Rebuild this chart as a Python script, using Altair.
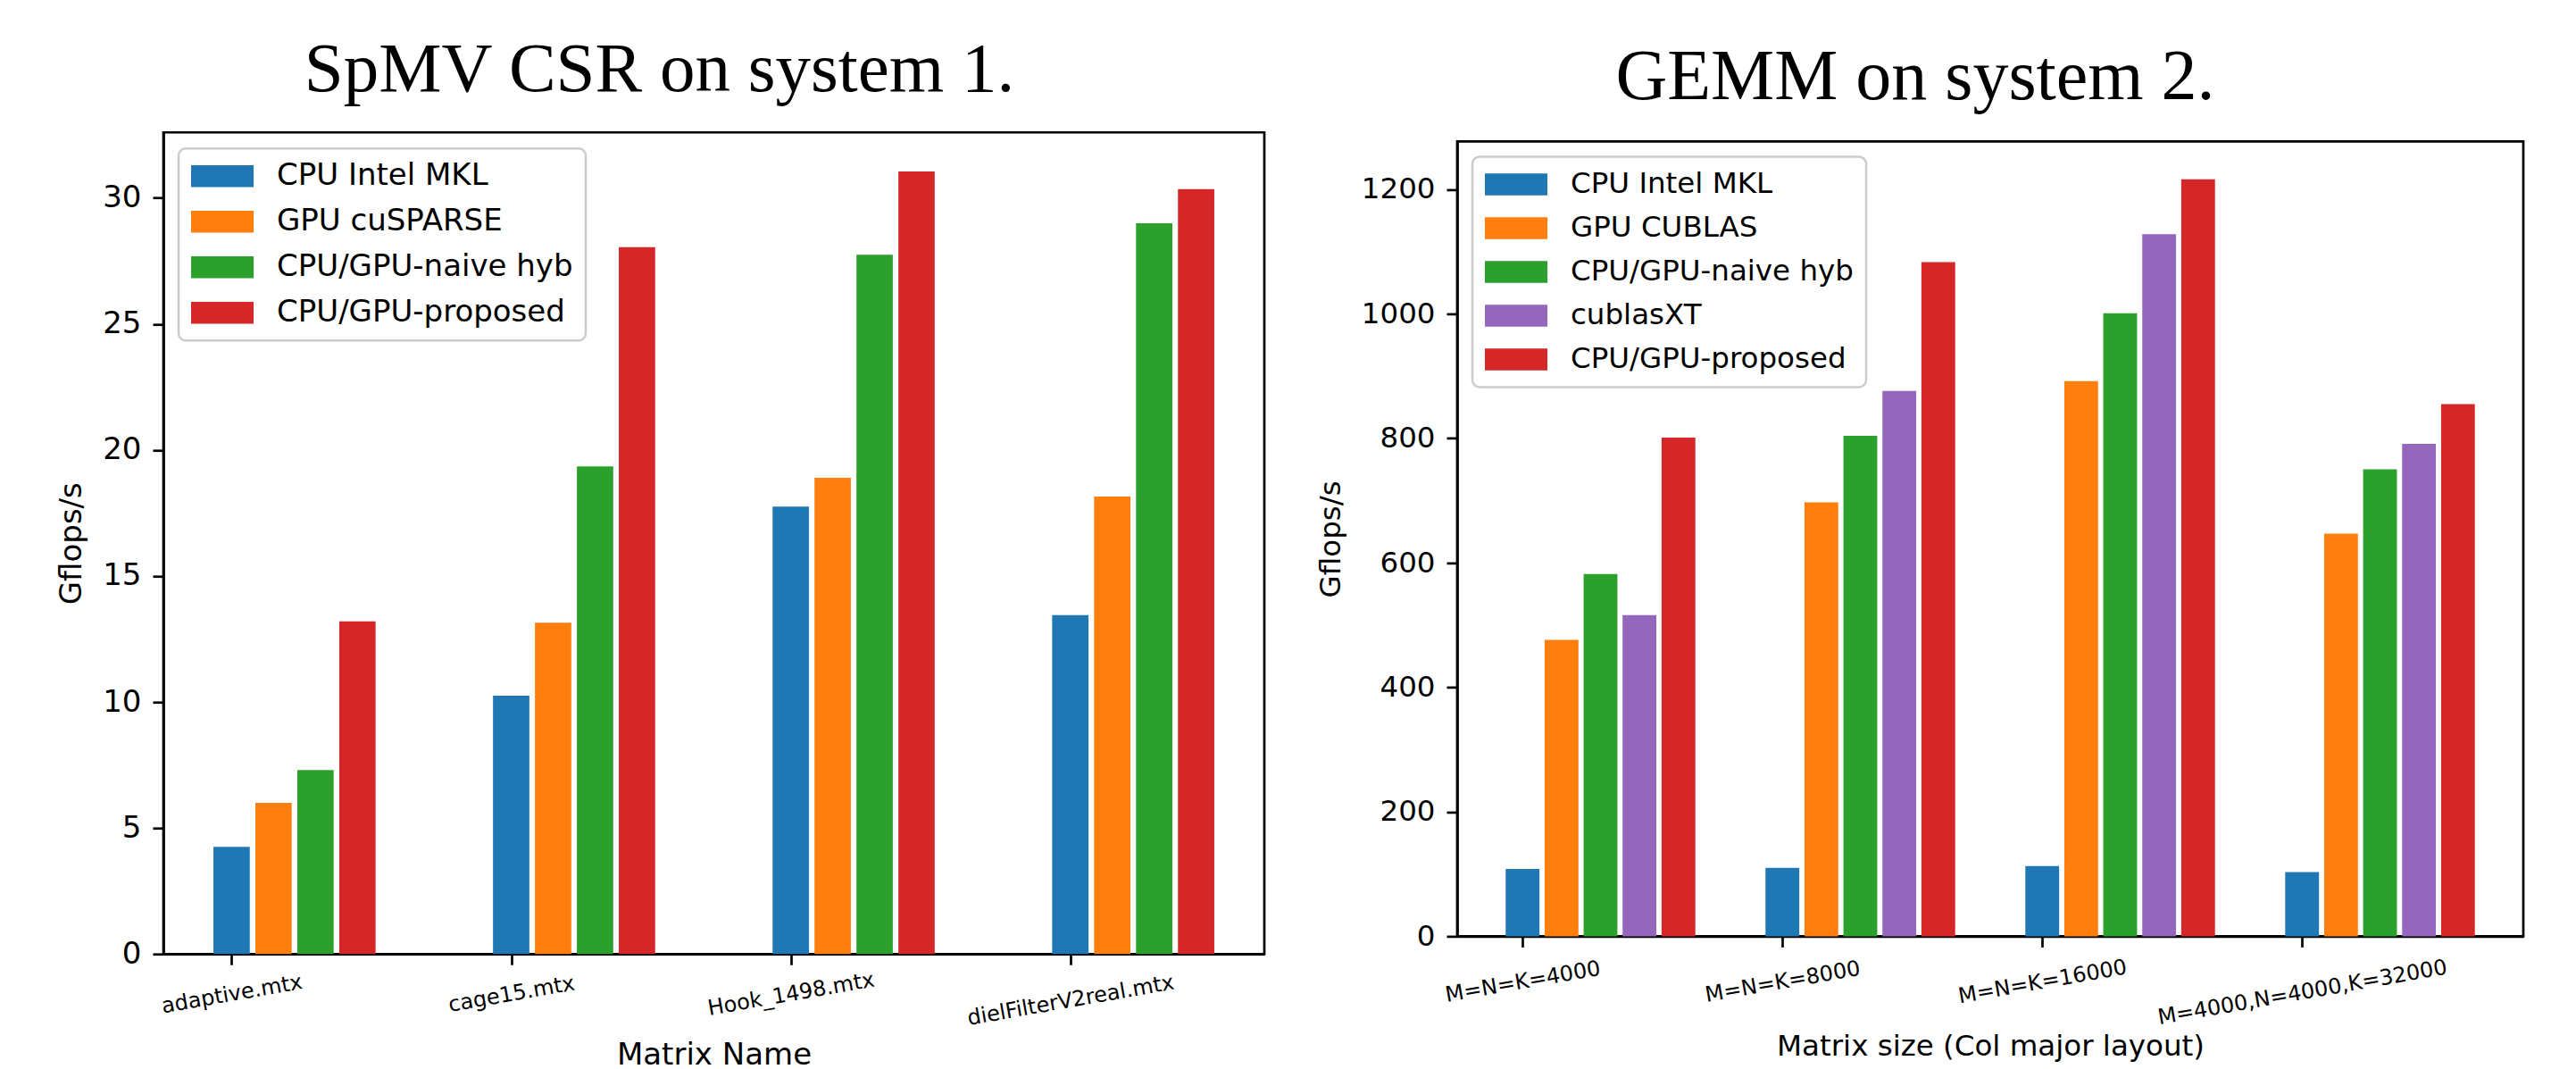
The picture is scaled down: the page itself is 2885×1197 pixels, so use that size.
import json
import altair as alt
import pandas as pd

# ---------------- data ----------------
spmv_matrices = ["adaptive.mtx", "cage15.mtx", "Hook_1498.mtx", "dielFilterV2real.mtx"]
spmv_series = ["CPU Intel MKL", "GPU cuSPARSE", "CPU/GPU-naive hyb", "CPU/GPU-proposed"]
spmv_cpu_mkl = [4.25, 10.25, 17.75, 13.45]
spmv_gpu_cusparse = [6.0, 13.15, 18.9, 18.15]
spmv_naive_hyb = [7.3, 19.35, 27.75, 29.0]
spmv_proposed = [13.2, 28.05, 31.05, 30.35]

gemm_sizes = ["M=N=K=4000", "M=N=K=8000", "M=N=K=16000", "M=4000,N=4000,K=32000"]
gemm_series = ["CPU Intel MKL", "GPU CUBLAS", "CPU/GPU-naive hyb", "cublasXT", "CPU/GPU-proposed"]
gemm_cpu_mkl = [108, 110, 113, 103]
gemm_gpu_cublas = [476, 697, 892, 647]
gemm_naive_hyb = [582, 804, 1001, 750]
gemm_cublasxt = [516, 876, 1128, 791]
gemm_proposed = [801, 1083, 1216, 855]

spmv_colors = ["#1f77b4", "#ff7f0e", "#2ca02c", "#d62728"]
gemm_colors = ["#1f77b4", "#ff7f0e", "#2ca02c", "#9467bd", "#d62728"]

BAR_STEP = 0.15
BAR_W = 0.13


def build(series_names, series_values):
    rows = []
    for k, (name, vals) in enumerate(zip(series_names, series_values)):
        for i, v in enumerate(vals):
            c = i + k * BAR_STEP
            rows.append({"series": name, "x0": c - BAR_W / 2, "x1": c + BAR_W / 2, "value": v, "group": i})
    return pd.DataFrame(rows)


spmv_df = build(spmv_series, [spmv_cpu_mkl, spmv_gpu_cusparse, spmv_naive_hyb, spmv_proposed])
gemm_df = build(gemm_series, [gemm_cpu_mkl, gemm_gpu_cublas, gemm_naive_hyb, gemm_cublasxt, gemm_proposed])

# wide legend swatch (2.06 : 0.72 aspect), left edge at the symbol's nominal left
RECT = "M-1,-0.72L3.12,-0.72L3.12,0.72L-1,0.72Z"


def panel(df, series, colors, cats, title, xtitle, yticks, width, height, dx,
          pad_short, pad_long, title_pad, legend_y, row_pad, font_size, title_size):
    lo = df["x0"].min()
    hi = df["x1"].max()
    m = (hi - lo) * 0.05
    ymax = df["value"].max() * 1.05
    label_expr = json.dumps(cats) + "[datum.value]"
    return alt.Chart(df).mark_bar().encode(
        x=alt.X("x0:Q",
                scale=alt.Scale(domain=[lo - m, hi + m], nice=False, zero=False),
                axis=alt.Axis(values=[0, 1, 2, 3], labelExpr=label_expr, title=xtitle,
                              labelFontSize=24, labelAngle=-10, labelAlign="center",
                              labelBaseline="middle",
                              labelPadding={"condition": {"test": "datum.value == 3", "value": pad_long},
                                            "value": pad_short},
                              labelLimit=1000, titlePadding=title_pad, titleFontSize=font_size)),
        x2="x1:Q",
        y=alt.Y("value:Q",
                scale=alt.Scale(domain=[0, ymax], nice=False),
                axis=alt.Axis(values=yticks, format="d", title="Gflops/s", labelPadding=13,
                              titlePadding=17, labelFontSize=font_size, titleFontSize=font_size)),
        y2=alt.datum(0),
        color=alt.Color("series:N",
                        scale=alt.Scale(domain=series, range=colors),
                        legend=alt.Legend(title=None, orient="none", legendX=17, legendY=legend_y,
                                          symbolType=RECT, symbolSize=1156, symbolStrokeWidth=0,
                                          symbolOpacity=1,
                                          labelFontSize=font_size, labelFont="DejaVu Sans", labelColor="black",
                                          labelOffset=62, labelLimit=1000, rowPadding=row_pad, padding=14,
                                          strokeColor="#cccccc", fillColor="white", cornerRadius=8)),
    ).properties(
        width=width, height=height,
        title=alt.TitleParams(title, font="Liberation Serif", fontSize=title_size, fontWeight="normal",
                              color="black", anchor="middle", frame="group", dx=dx,
                              baseline="alphabetic", offset=-33),
    )


left = panel(spmv_df, spmv_series, spmv_colors, spmv_matrices, "SpMV CSR on system 1.",
             "Matrix Name", [0, 5, 10, 15, 20, 25, 30], 1233, 920, -61, 33, 40, 12, 18, 17, 34, 79)
right = panel(gemm_df, gemm_series, gemm_colors, gemm_sizes, "GEMM on system 2.",
              "Matrix size (Col major layout)", [0, 200, 400, 600, 800, 1000, 1200], 1194, 890, -84,
              39, 51, 4, 17, 15, 32.5, 80)

chart = alt.hconcat(left, right, spacing=54, center=True).resolve_scale(
    x="independent", y="independent", color="independent"
).resolve_legend(color="independent").properties(
    padding={"left": 54, "top": 29, "right": 0, "bottom": 0}
).configure_axis(
    domainColor="black", domainWidth=2.7, tickColor="black", tickWidth=2.7, tickSize=12,
    labelFont="DejaVu Sans", labelFontSize=34, labelColor="black",
    titleFont="DejaVu Sans", titleFontSize=34, titleFontWeight="normal", titleColor="black",
    grid=False,
).configure_view(
    stroke="black", strokeWidth=2.7
).configure_legend(
    strokeWidth=2.5
)

chart.save("out.html", embed_options={"renderer": "svg", "actions": False})
